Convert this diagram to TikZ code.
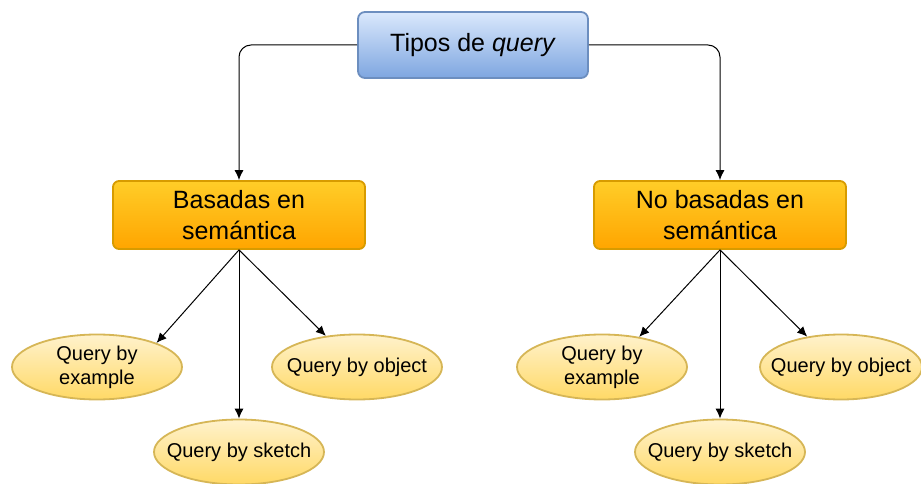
\documentclass[tikz,border=0pt]{standalone}
\usepackage{fontspec}
\setmainfont{Liberation Sans}
\usetikzlibrary{arrows.meta}
\usetikzlibrary{shapes.geometric}
\definecolor{blueline}{HTML}{6C8EBF}
\definecolor{bluetop}{HTML}{DAE8FC}
\definecolor{bluebot}{HTML}{7EA6E0}
\definecolor{orangeline}{HTML}{D79B00}
\definecolor{orangetop}{HTML}{FFCD28}
\definecolor{orangebot}{HTML}{FFA500}
\definecolor{yellowline}{HTML}{D6B656}
\definecolor{yellowtop}{HTML}{FFF2CC}
\definecolor{yellowbot}{HTML}{FFD966}
\tikzset{arrow/.style={-{Latex[length=10pt,width=9pt]}, line width=1pt}}
\tikzset{rootbox/.style={draw=blueline, line width=1.8pt, rounded corners=7pt,
    top color=bluetop, bottom color=bluebot, minimum width=230pt,
    minimum height=66pt, font=\fontsize{25}{30}\selectfont}}
\tikzset{groupbox/.style={draw=orangeline, line width=1.8pt, rounded corners=6pt,
    top color=orangetop, bottom color=orangebot, minimum width=252pt,
    minimum height=68pt, align=center, font=\fontsize{25}{31}\selectfont}}
\tikzset{kind/.style={ellipse, draw=yellowline, line width=1.8pt,
    top color=yellowtop, bottom color=yellowbot, minimum width=170pt,
    minimum height=65pt, inner xsep=-30pt, inner ysep=-6pt, align=center,
    font=\fontsize{20}{24}\selectfont}}

\begin{document}
\begin{tikzpicture}[x=1pt,y=-1pt]
        \useasboundingbox (0,0) rectangle (921,484);

        \node[rootbox] (tipos) at (473,45) {Tipos de \textit{query}};

        \node[groupbox] (sem) at (239,215) {Basadas en\\sem\'antica};
        \node[groupbox] (nosem) at (720,215) {No basadas en\\sem\'antica};

        % basadas en semantica
        \node[kind] (semex) at (97,367) {Query by\\example};
        \node[kind] (semob) at (357,367) {Query by object};
        \node[kind] (semsk) at (239,452) {Query by sketch};

        % no basadas en semantica
        \node[kind] (nosemex) at (602,367) {Query by\\example};
        \node[kind, minimum width=162pt] (nosemob) at (841,367) {Query by object};
        \node[kind] (nosemsk) at (720,452) {Query by sketch};

        \draw[arrow, rounded corners=12pt] (tipos.west) -| (sem.north);
        \draw[arrow, rounded corners=12pt] (tipos.east) -| (nosem.north);

        \draw[arrow] (sem.south) -- (semex.22);
        \draw[arrow] (sem.south) -- (semsk.north);
        \draw[arrow] (sem.south) -- (semob.135);
        \draw[arrow] (nosem.south) -- (nosemex.39);
        \draw[arrow] (nosem.south) -- (nosemsk.north);
        \draw[arrow] (nosem.south) -- (nosemob.138);
\end{tikzpicture}
\end{document}
